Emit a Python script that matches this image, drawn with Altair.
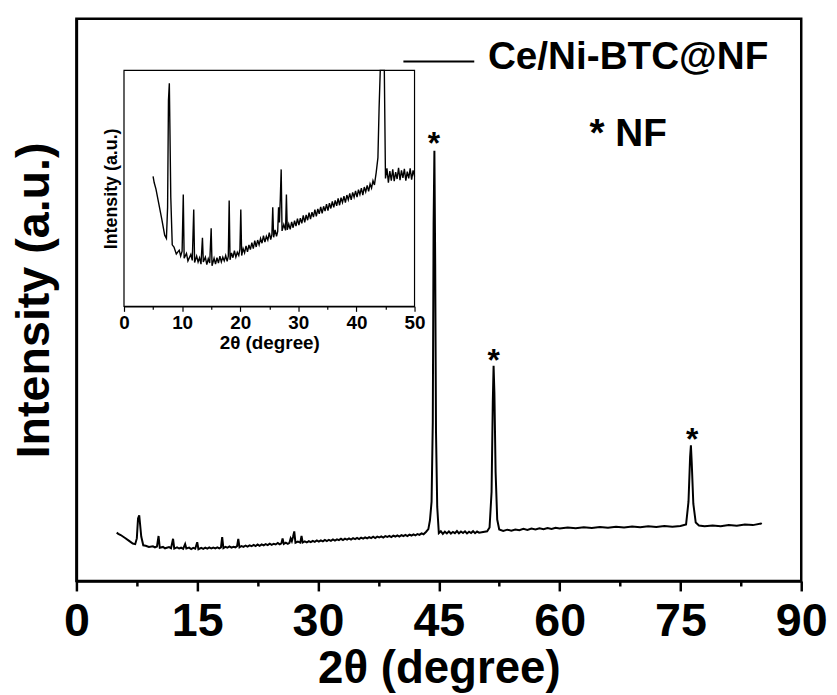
import altair as alt
import pandas as pd

# ---- data (2theta in degrees, intensity in a.u.) ----
two_theta = [
    5.0, 5.2, 5.5, 6.0, 6.5, 7.0, 7.3, 7.5, 7.65, 7.8, 7.9, 8.05, 8.3,
    8.6, 9.0, 9.5, 9.75, 10.0, 10.2, 10.35, 10.75, 11.0, 11.5, 11.75, 12.0, 12.15,
    12.5, 12.75, 13.0, 13.25, 13.5, 13.65, 14.0, 14.25, 14.5, 14.75, 15.0, 15.15,
    15.5, 15.75, 16.0, 16.25, 16.5, 16.75, 17.0, 17.25, 17.5, 17.75, 17.95, 18.1,
    18.25, 18.5, 18.75, 19.0, 19.25, 19.5, 19.75, 19.95, 20.1, 20.25, 20.5, 20.75,
    21.0, 21.25, 21.5, 21.75, 22.0, 22.25, 22.5, 22.75, 23.0, 23.25, 23.5, 23.75,
    24.0, 24.25, 24.5, 24.75, 25.0, 25.25, 25.45, 25.6, 25.75, 26.0, 26.25, 26.45,
    26.6, 26.75, 26.9, 27.05, 27.2, 27.5, 27.8, 27.95, 28.1, 28.35, 28.6, 28.85,
    29.1, 29.35, 29.6, 29.85, 30.1, 30.35, 30.6, 30.85, 31.1, 31.35, 31.6, 31.85,
    32.1, 32.35, 32.6, 32.85, 33.1, 33.35, 33.6, 33.85, 34.1, 34.35, 34.6, 34.85,
    35.1, 35.35, 35.6, 35.85, 36.1, 36.35, 36.6, 36.85, 37.1, 37.35, 37.6, 37.85,
    38.1, 38.35, 38.6, 38.85, 39.1, 39.35, 39.6, 39.85, 40.1, 40.35, 40.6, 40.85,
    41.1, 41.35, 41.6, 41.85, 42.1, 42.35, 42.6, 42.85, 43.1, 43.4, 43.7, 43.9,
    44.1, 44.25, 44.35, 44.45, 44.55, 44.65, 44.8,
    45.0, 45.25, 45.5, 45.75, 46.0, 46.25, 46.5, 46.75, 47.0, 47.25, 47.5, 47.75,
    48.0, 48.25, 48.5, 48.75, 49.0, 49.25, 49.5, 49.75, 50.0,
    51.0, 51.3, 51.55, 51.7, 51.8, 51.9, 52.05, 52.25, 52.5,
    53.0, 53.5, 54.0, 54.5, 55.0, 55.5, 56.0, 56.5, 57.0, 57.5, 58.0, 58.5, 59.0, 59.5,
    60.0, 61.0, 62.0, 63.0, 64.0, 65.0, 66.0, 67.0, 68.0, 69.0, 70.0, 71.0, 72.0, 73.0,
    74.0, 75.0, 75.7, 76.0, 76.2, 76.3, 76.4, 76.6, 76.9, 77.3, 78.0, 79.0, 80.0, 81.0,
    82.0, 83.0, 84.0, 85.0, 85.1,
]
intensity = [
    48.8, 47.6, 46.4, 43.6, 40.8, 37.8, 37.2, 43.0, 63.0, 66.2, 57.8, 44.9, 36.0,
    35.6, 34.3, 35.0, 33.9, 34.8, 45.4, 33.5, 34.4, 33.0, 34.2, 33.1, 42.6, 32.7,
    33.9, 32.8, 33.6, 32.4, 37.3, 32.8, 33.7, 32.3, 33.4, 32.6, 39.1, 32.1,
    33.5, 32.4, 33.6, 32.6, 33.9, 32.8, 33.7, 33.0, 34.0, 32.9, 33.9, 44.3,
    33.2, 34.5, 33.6, 34.9, 33.7, 34.6, 34.0, 35.2, 42.6, 34.0, 35.3, 34.5,
    35.8, 34.7, 36.0, 35.1, 36.4, 35.3, 36.8, 35.6, 36.9, 36.0, 37.2, 36.3,
    37.7, 36.5, 37.6, 36.9, 38.3, 37.0, 37.9, 43.0, 37.4, 38.8, 37.6, 38.5,
    43.0, 40.2, 44.7, 50.1, 38.6, 39.8, 38.7, 45.4, 38.8, 39.9, 38.9, 40.3,
    39.2, 40.5, 39.5, 40.9, 39.7, 41.0, 40.0, 41.5, 40.2, 41.6, 40.6, 42.0,
    40.8, 42.1, 41.2, 42.6, 41.3, 42.7, 41.8, 43.1, 41.9, 43.2, 42.3, 43.6,
    42.4, 43.8, 42.8, 44.1, 43.0, 44.3, 43.3, 44.7, 43.4, 44.8, 43.9, 45.1,
    43.9, 45.3, 44.4, 45.6, 44.4, 45.8, 44.9, 46.1, 44.9, 46.3, 45.4, 46.6,
    45.3, 46.8, 45.9, 47.1, 46.0, 47.4, 46.6, 48.0, 47.2, 49.5, 52.3, 61.5,
    80.0, 160.0, 360.0, 434.0, 320.0, 150.0, 75.0,
    48.4, 50.3, 47.6, 49.8, 48.0, 50.1, 47.9, 49.6, 48.3, 50.4, 48.1, 49.9,
    48.5, 50.2, 48.0, 49.7, 48.4, 50.3, 48.2, 49.9, 48.8,
    50.2, 54.0, 90.0, 180.0, 217.0, 190.0, 110.0, 62.0, 52.0,
    50.5, 51.8, 50.8, 52.0, 51.3, 52.6, 51.6, 52.9, 52.0, 53.2, 52.3, 53.5, 52.6, 53.8,
    53.0, 53.9, 53.2, 54.2, 53.4, 54.5, 53.7, 54.8, 54.0, 55.0, 54.2, 55.2, 54.4, 55.4,
    54.8, 55.5, 57.0, 80.0, 125.0, 137.0, 120.0, 78.0, 59.0, 56.0, 55.2, 56.0, 55.3, 56.6,
    55.8, 57.0, 56.4, 58.0, 57.5,
]

series_name = ["Ce/Ni-BTC@NF"]
legend_x = [40.6]
legend_x2 = [49.4]
legend_y = [524]
legend_text_x = [51.1]
legend_text_y = [528]

star_x = [44.4, 51.8, 76.45]
star_y = [450, 231, 151]

nf_label = ["* NF"]
nf_x = [68.5]
nf_y = [451]

main_ticks = [0, 7.5, 15, 22.5, 30, 37.5, 45, 52.5, 60, 67.5, 75, 82.5, 90]
inset_ticks = [0, 5, 10, 15, 20, 25, 30, 35, 40, 45, 50]

FONT = "Liberation Sans, Arial, Helvetica, sans-serif"

df = pd.DataFrame({"x": two_theta, "y": intensity})

# ---------------- main panel ----------------
main_x = alt.X(
    "x:Q",
    scale=alt.Scale(domain=[0, 90], nice=False, zero=False),
    axis=alt.Axis(
        values=main_ticks,
        labelExpr="datum.value % 15 == 0 ? datum.label : ''",
        tickSize={"condition": {"test": "datum.value % 15 == 0", "value": 10}, "value": 5},
        tickWidth=2.5,
        tickColor="black",
        domainColor="black",
        domainWidth=2.5,
        grid=False,
        labelFont=FONT,
        labelFontSize=47,
        labelFontWeight="bold",
        labelColor="black",
        labelPadding=8,
        labelFlush=False,
        labelOverlap=False,
        title="2θ (degree)",
        titleFont=FONT,
        titleFontSize=46,
        titleFontWeight="bold",
        titleColor="black",
        titlePadding=2,
        orient="bottom",
    ),
)
main_y = alt.Y(
    "y:Q",
    scale=alt.Scale(domain=[0, 567], nice=False, zero=False),
    axis=alt.Axis(
        ticks=False,
        labels=False,
        grid=False,
        domainColor="black",
        domainWidth=2.5,
        title="Intensity (a.u.)",
        titleFont=FONT,
        titleFontSize=47,
        titleFontWeight="bold",
        titleColor="black",
        titlePadding=18,
        orient="left",
    ),
)

main_line = alt.Chart(df).mark_line(color="black", strokeWidth=2, clip=True).encode(
    x=main_x, y=main_y
)

legend_rule = alt.Chart(
    pd.DataFrame({"x": legend_x, "x2": legend_x2, "y": legend_y})
).mark_rule(color="black", strokeWidth=2).encode(x="x:Q", x2="x2:Q", y="y:Q")

legend_label = alt.Chart(
    pd.DataFrame({"x": legend_text_x, "y": legend_text_y, "t": series_name})
).mark_text(
    align="left", baseline="middle", font=FONT, fontSize=39, fontWeight="bold", color="black"
).encode(x="x:Q", y="y:Q", text="t:N")

stars = alt.Chart(pd.DataFrame({"x": star_x, "y": star_y, "t": ["*"] * len(star_x)})).mark_text(
    align="center", baseline="middle", font=FONT, fontSize=32, fontWeight="bold",
    color="black", dy=9
).encode(x="x:Q", y="y:Q", text="t:N")

nf_text = alt.Chart(pd.DataFrame({"x": nf_x, "y": nf_y, "t": nf_label})).mark_text(
    align="center", baseline="middle", font=FONT, fontSize=39, fontWeight="bold", color="black"
).encode(x="x:Q", y="y:Q", text="t:N")

main = alt.layer(main_line, legend_rule, legend_label, stars, nf_text)

# ---------------- inset panel ----------------
inset_xscale = alt.Scale(domain=[0, 50], range=[48, 341], nice=False, zero=False)
inset_yscale = alt.Scale(domain=[24.5, 68.6], range=[290, 52], nice=False, zero=False, clamp=True)

inset_x = alt.X(
    "x:Q",
    scale=inset_xscale,
    axis=alt.Axis(
        values=inset_ticks,
        labelExpr="datum.value % 10 == 0 ? datum.label : ''",
        tickSize={"condition": {"test": "datum.value % 10 == 0", "value": 5}, "value": 3},
        tickWidth=1.2,
        tickColor="black",
        domainColor="black",
        domainWidth=1.2,
        grid=False,
        labelFont=FONT,
        labelFontSize=19,
        labelFontWeight="bold",
        labelColor="black",
        labelPadding=2,
        labelFlush=False,
        labelOverlap=False,
        title="2θ (degree)",
        titleFont=FONT,
        titleFontSize=19,
        titleFontWeight="bold",
        titleColor="black",
        titlePadding=1,
        orient="bottom",
        offset=-277,
    ),
)
inset_y = alt.Y(
    "y:Q",
    scale=inset_yscale,
    axis=alt.Axis(
        ticks=False,
        labels=False,
        grid=False,
        domainColor="black",
        domainWidth=1.2,
        title="Intensity (a.u.)",
        titleFont=FONT,
        titleFontSize=18,
        titleFontWeight="bold",
        titleColor="black",
        titlePadding=4,
        orient="left",
        offset=-48,
    ),
)

inset_frame = alt.Chart(
    pd.DataFrame({"x": [0], "x2": [50], "y": [24.5], "y2": [68.6]})
).mark_rect(fill="white", stroke="black", strokeWidth=1.2).encode(
    x=inset_x, x2="x2:Q", y=inset_y, y2="y2:Q"
)

inset_line = alt.Chart(df).transform_filter("datum.x <= 50").mark_line(
    color="black", strokeWidth=1.4
).encode(x=inset_x, y=inset_y)

inset = alt.layer(inset_frame, inset_line)

chart = (
    alt.layer(main, inset)
    .resolve_scale(x="independent", y="independent")
    .properties(
        width=731,
        height=567,
        autosize=alt.AutoSizeParams(type="none"),
        padding={"left": 69, "top": 8, "right": 28, "bottom": 110},
        background="white",
    )
    .configure_view(stroke="black", strokeWidth=2.5)
)

chart.save("out.html", embed_options={"renderer": "svg", "actions": False})
